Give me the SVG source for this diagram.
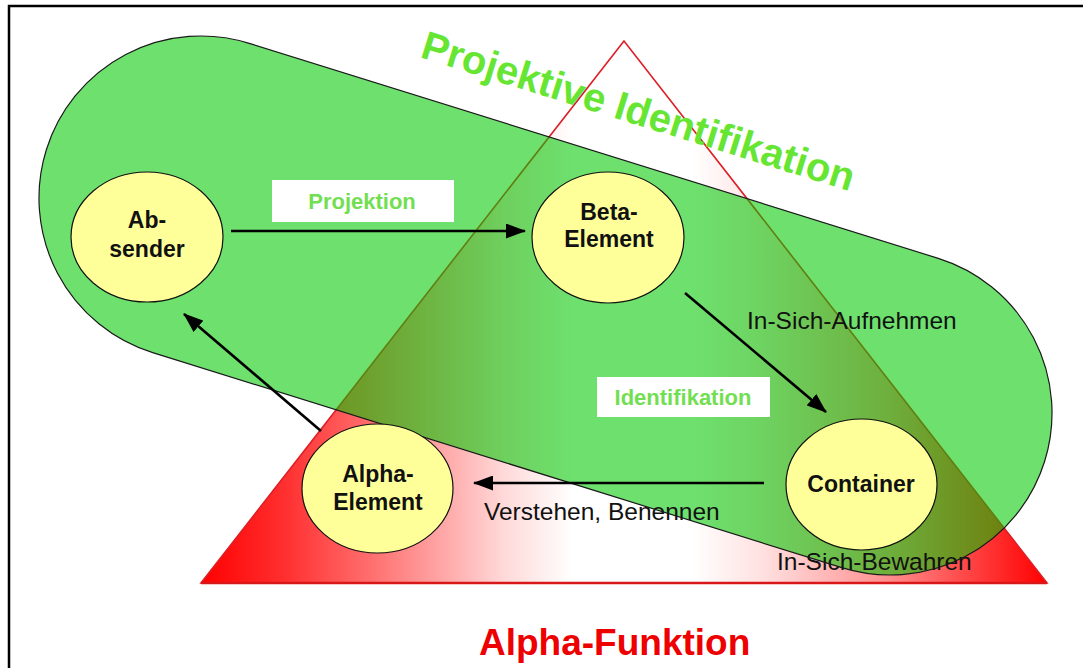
<svg xmlns="http://www.w3.org/2000/svg" width="1083" height="668" viewBox="0 0 1083 668">
  <style>
    .frame { fill: #ffffff; stroke: #000000; stroke-width: 2.5; }
    .node-shape { fill: #ffff99; stroke: #111111; stroke-width: 1.2; }
    .node-text { font-family: "Liberation Sans", Arial, sans-serif; font-weight: bold; font-size: 23px; fill: #111111; text-anchor: middle; }
    .edge { stroke: #000000; stroke-width: 2.6; fill: none; marker-end: url(#head); }
    .edge-text { font-family: "Liberation Sans", Arial, sans-serif; font-size: 24.5px; fill: #111111; }
    .tag-box { fill: #ffffff; }
    .tag-text { font-family: "Liberation Sans", Arial, sans-serif; font-weight: bold; font-size: 22px; fill: #72de52; text-anchor: middle; }
    .title-green { font-family: "Liberation Sans", Arial, sans-serif; font-weight: bold; font-size: 40px; fill: #66e633; }
    .title-red { font-family: "Liberation Sans", Arial, sans-serif; font-weight: bold; font-size: 37px; fill: #ee0000; }
  </style>
  <defs>
    <!-- red at the two base corners, white in the middle -->
    <linearGradient id="alphaFill" gradientUnits="userSpaceOnUse" x1="201" y1="0" x2="1047" y2="0">
      <stop offset="0" stop-color="#ff0000"/>
      <stop offset="0.1" stop-color="#ff3030"/>
      <stop offset="0.2" stop-color="#ff6e6e"/>
      <stop offset="0.3" stop-color="#ffb0b0"/>
      <stop offset="0.36" stop-color="#ffdada"/>
      <stop offset="0.44" stop-color="#ffffff"/>
      <stop offset="0.58" stop-color="#ffffff"/>
      <stop offset="0.66" stop-color="#ffe2e2"/>
      <stop offset="0.73" stop-color="#ffbcbc"/>
      <stop offset="0.81" stop-color="#ff9090"/>
      <stop offset="0.9" stop-color="#ff4a4a"/>
      <stop offset="1" stop-color="#ff0000"/>
    </linearGradient>
    <!-- rounded band spanning sender and container -->
    <rect id="band" x="-522.9" y="-162" width="1045.8" height="324" rx="162" ry="162"
          transform="translate(545.5 305.5) rotate(17.33)"/>
    <marker id="head" viewBox="0 0 20 15" refX="19" refY="7.5" markerWidth="20" markerHeight="15"
            markerUnits="userSpaceOnUse" orient="auto">
      <path d="M0,0 L20,7.5 L0,15 Z" fill="#000000"/>
    </marker>
  </defs>

  <!-- outer frame -->
  <rect class="frame" x="9" y="6" width="1090" height="680"/>

  <!-- alpha function triangle -->
  <g id="alpha-triangle">
    <polygon points="624,41 201,583 1047,583" fill="url(#alphaFill)" stroke="#dd1f26" stroke-width="1.6"/>
    <line x1="201" y1="583" x2="1047" y2="583" stroke="#d81818" stroke-width="2.6"/>
  </g>

  <!-- translucent band fill -->
  <use href="#band" fill="#00c800" fill-opacity="0.57"/>

  <!-- labels sitting under the band outline -->
  <g id="edge-labels">
    <text class="edge-text" x="747" y="329">In-Sich-Aufnehmen</text>
    <text class="edge-text" x="484" y="520">Verstehen, Benennen</text>
    <text class="edge-text" x="777" y="570">In-Sich-Bewahren</text>
  </g>

  <!-- band outline -->
  <use href="#band" fill="none" stroke="#1a1a1a" stroke-width="1.2"/>

  <!-- tag boxes -->
  <g id="tag-projektion">
    <rect class="tag-box" x="272" y="180" width="182" height="42"/>
    <text class="tag-text" x="362" y="209">Projektion</text>
  </g>
  <g id="tag-identifikation">
    <rect class="tag-box" x="597" y="377" width="173" height="40"/>
    <text class="tag-text" x="683" y="405">Identifikation</text>
  </g>

  <!-- nodes -->
  <g id="node-absender">
    <ellipse class="node-shape" cx="147" cy="237" rx="76" ry="65"/>
    <text class="node-text" x="147" y="228">Ab-</text>
    <text class="node-text" x="147" y="257">sender</text>
  </g>
  <g id="node-beta">
    <ellipse class="node-shape" cx="608" cy="237.5" rx="76" ry="65.5"/>
    <text class="node-text" x="609" y="220">Beta-</text>
    <text class="node-text" x="609" y="247">Element</text>
  </g>
  <g id="node-container">
    <ellipse class="node-shape" cx="861.5" cy="484.5" rx="75.5" ry="65.5"/>
    <text class="node-text" x="861" y="492">Container</text>
  </g>
  <g id="node-alpha">
    <ellipse class="node-shape" cx="377.5" cy="488.5" rx="75.5" ry="64.5"/>
    <text class="node-text" x="378" y="482">Alpha-</text>
    <text class="node-text" x="378" y="510">Element</text>
  </g>

  <!-- connectors -->
  <g id="connectors">
    <line class="edge" x1="231" y1="231" x2="525" y2="231"/>
    <line class="edge" x1="685" y1="293" x2="826" y2="412"/>
    <line class="edge" x1="764" y1="483" x2="474" y2="483"/>
    <line class="edge" x1="321" y1="431" x2="184" y2="314"/>
  </g>

  <!-- headings -->
  <text class="title-green" transform="translate(419 57) rotate(17.3)">Projektive Identifikation</text>
  <text class="title-red" x="479" y="655">Alpha-Funktion</text>
</svg>
